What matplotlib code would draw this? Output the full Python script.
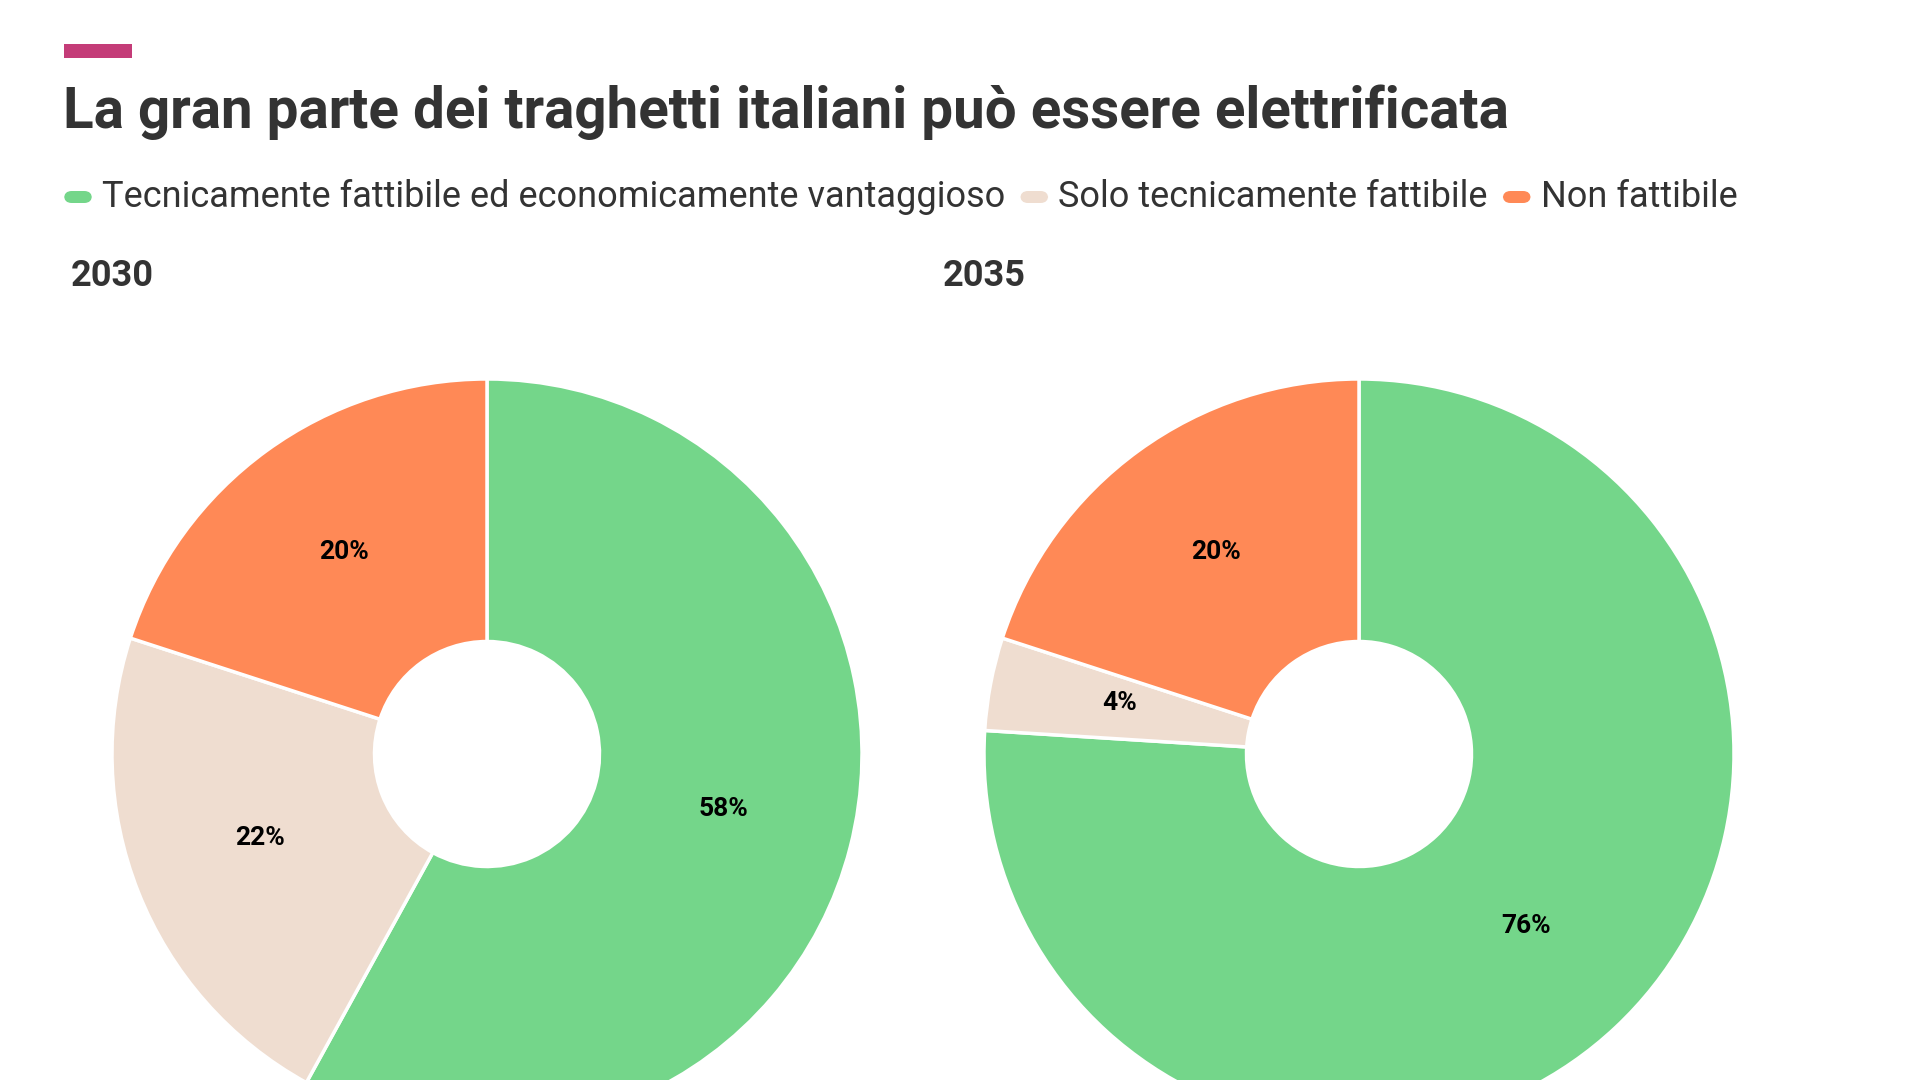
import matplotlib.pyplot as plt
from matplotlib.patches import FancyBboxPatch, Rectangle

# Data
categories = ["Tecnicamente fattibile ed economicamente vantaggioso",
              "Solo tecnicamente fattibile",
              "Non fattibile"]
years = ["2030", "2035"]
shares_2030 = [58, 22, 20]
shares_2035 = [76, 4, 20]
colors = ["#74D68A", "#EFDDD0", "#FF8956"]

title = "La gran parte dei traghetti italiani può essere elettrificata"

plt.rcParams['font.family'] = ['Roboto', 'DejaVu Sans']

W, H = 1920, 1080
fig = plt.figure(figsize=(W / 100, H / 100), dpi=100)
fig.patch.set_facecolor("white")

def px(x, y):
    # pixel coords from top-left -> figure fraction
    return x / W, 1 - y / H

# Accent bar
fig.patches.append(Rectangle(px(64, 58), 68 / W, 14 / H, transform=fig.transFigure,
                             facecolor="#C43C78", edgecolor="none"))

# Title
fig.text(*px(63, 112), title, fontsize=40.7, fontweight="bold", color="#333333",
         va="center", ha="left")

# Legend, drawn by hand
fig.canvas.draw()
renderer = fig.canvas.get_renderer()
x = 64
ly = 197
for cat, col in zip(categories, colors):
    fig.patches.append(FancyBboxPatch(px(x, ly + 6), 28 / W, 12 / H,
                                      boxstyle="round,pad=0.0,rounding_size=0.004",
                                      transform=fig.transFigure, facecolor=col,
                                      edgecolor="none", mutation_aspect=W / H))
    t = fig.text(*px(x + 38, ly), cat, fontsize=26, color="#333333",
                 va="center", ha="left")
    bb = t.get_window_extent(renderer)
    x = x + 38 + bb.width + 15

# Donuts
centers = [(487, 754), (1359, 754)]
radius = 375
for (cx, cy), year, vals, lx in zip(centers, years, [shares_2030, shares_2035], [71, 943]):
    ax = fig.add_axes([(cx - radius) / W, (H - cy - radius) / H, 2 * radius / W, 2 * radius / H])
    wedges, _, autotexts = ax.pie(vals, colors=colors, startangle=90, counterclock=False,
                                  radius=1, autopct=lambda p: f"{p:.0f}%", pctdistance=0.65,
                                  wedgeprops=dict(width=0.70, edgecolor="white", linewidth=2.5))
    for at in autotexts:
        at.set_fontsize(19)
        at.set_fontweight("bold")
        at.set_color("black")
        tx, ty = at.get_position()
        at.set_position((tx, ty + 0.014))  # nudge up a few pixels
    ax.set_xlim(-1, 1)
    ax.set_ylim(-1, 1)
    ax.set_aspect("equal")
    ax.axis("off")
    fig.text(*px(lx, 276), year, fontsize=26, fontweight="bold", color="#333333",
             va="center", ha="left")

fig.savefig("out.png", dpi=100, facecolor="white")
